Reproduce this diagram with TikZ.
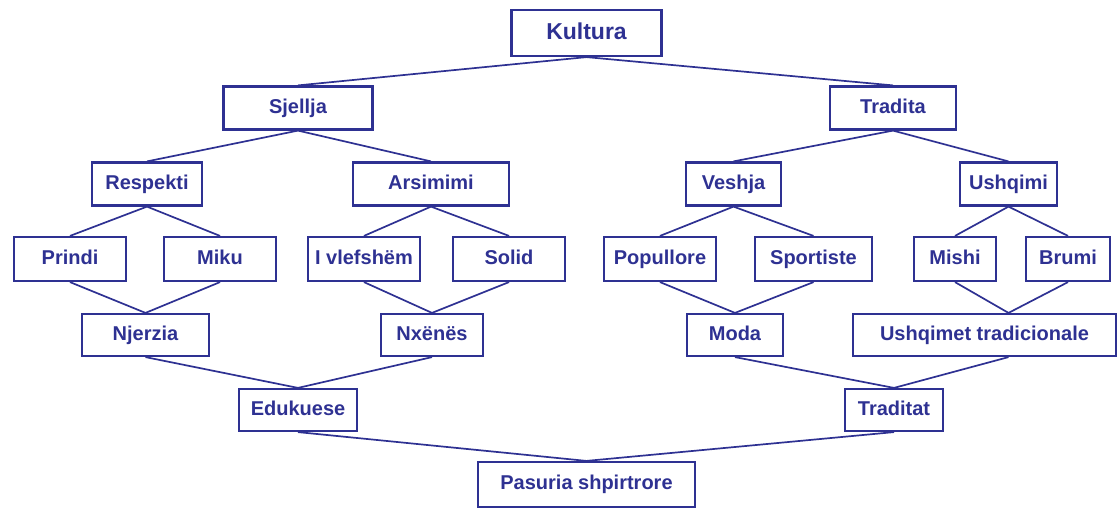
\documentclass[tikz,border=0pt]{standalone}
\usepackage{fontspec}
\setmainfont{Liberation Sans}
\definecolor{navy}{RGB}{46,49,146}
\begin{document}
\begin{tikzpicture}[x=1pt,y=-1pt,
  box/.style={draw=navy,line width=2.2pt,text=navy,font=\fontsize{20}{24}\selectfont\bfseries,inner sep=0pt,minimum height=43pt,text height=14.5pt,text depth=4pt},
  link/.style={draw=navy,line width=1.7pt}]
\useasboundingbox (0,0) rectangle (1120,509);
\node[box,minimum width=150pt,minimum height=46pt,font=\fontsize{23}{27}\selectfont\bfseries,text height=16.5pt,text depth=4.5pt] (kul) at (586.5,33) {Kultura};
\node[box,minimum width=149pt] (sje) at (298,108) {Sjellja};
\node[box,minimum width=126pt] (tra) at (893,108) {Tradita};
\node[box,minimum width=110pt] (res) at (147,184) {Respekti};
\node[box,minimum width=156pt] (ars) at (431,184) {Arsimimi};
\node[box,minimum width=95pt] (ves) at (733.5,184) {Veshja};
\node[box,minimum width=97pt] (ush) at (1008.5,184) {Ushqimi};
\node[box,minimum width=112pt,minimum height=44pt] (pri) at (70,259) {Prindi};
\node[box,minimum width=112pt,minimum height=44pt] (mik) at (220,259) {Miku};
\node[box,minimum width=112pt,minimum height=44pt] (vle) at (364,259) {I vlefshëm};
\node[box,minimum width=112pt,minimum height=44pt] (sol) at (509,259) {Solid};
\node[box,minimum width=112pt,minimum height=44pt] (pop) at (660,259) {Popullore};
\node[box,minimum width=117pt,minimum height=44pt] (spo) at (813.5,259) {Sportiste};
\node[box,minimum width=82pt,minimum height=44pt] (mis) at (955,259) {Mishi};
\node[box,minimum width=84pt,minimum height=44pt] (bru) at (1068,259) {Brumi};
\node[box,minimum width=127pt,minimum height=42pt] (nje) at (145.5,335) {Njerzia};
\node[box,minimum width=102pt,minimum height=42pt] (nxe) at (432,335) {Nxënës};
\node[box,minimum width=96pt,minimum height=42pt] (mod) at (735,335) {Moda};
\node[box,minimum width=263pt,minimum height=42pt] (ust) at (984.5,335) {Ushqimet tradicionale};
\node[box,minimum width=118pt,minimum height=42pt] (edu) at (298,410) {Edukuese};
\node[box,minimum width=98pt,minimum height=42pt] (trt) at (894,410) {Traditat};
\node[box,minimum width=217pt,minimum height=45pt] (pas) at (586.5,484.5) {Pasuria shpirtrore};
\coordinate (ustn) at (ush.south |- ust.north);
\coordinate (usts) at (ush.south |- ust.south);
\draw[link] (sje.north) -- (kul.south) -- (tra.north);
\draw[link] (res.north) -- (sje.south) -- (ars.north);
\draw[link] (ves.north) -- (tra.south) -- (ush.north);
\draw[link] (pri.north) -- (res.south) -- (mik.north);
\draw[link] (vle.north) -- (ars.south) -- (sol.north);
\draw[link] (pop.north) -- (ves.south) -- (spo.north);
\draw[link] (mis.north) -- (ush.south) -- (bru.north);
\draw[link] (pri.south) -- (nje.north) -- (mik.south);
\draw[link] (vle.south) -- (nxe.north) -- (sol.south);
\draw[link] (pop.south) -- (mod.north) -- (spo.south);
\draw[link] (mis.south) -- (ustn) -- (bru.south);
\draw[link] (nje.south) -- (edu.north) -- (nxe.south);
\draw[link] (mod.south) -- (trt.north) -- (usts);
\draw[link] (edu.south) -- (pas.north) -- (trt.south);
\end{tikzpicture}
\end{document}
